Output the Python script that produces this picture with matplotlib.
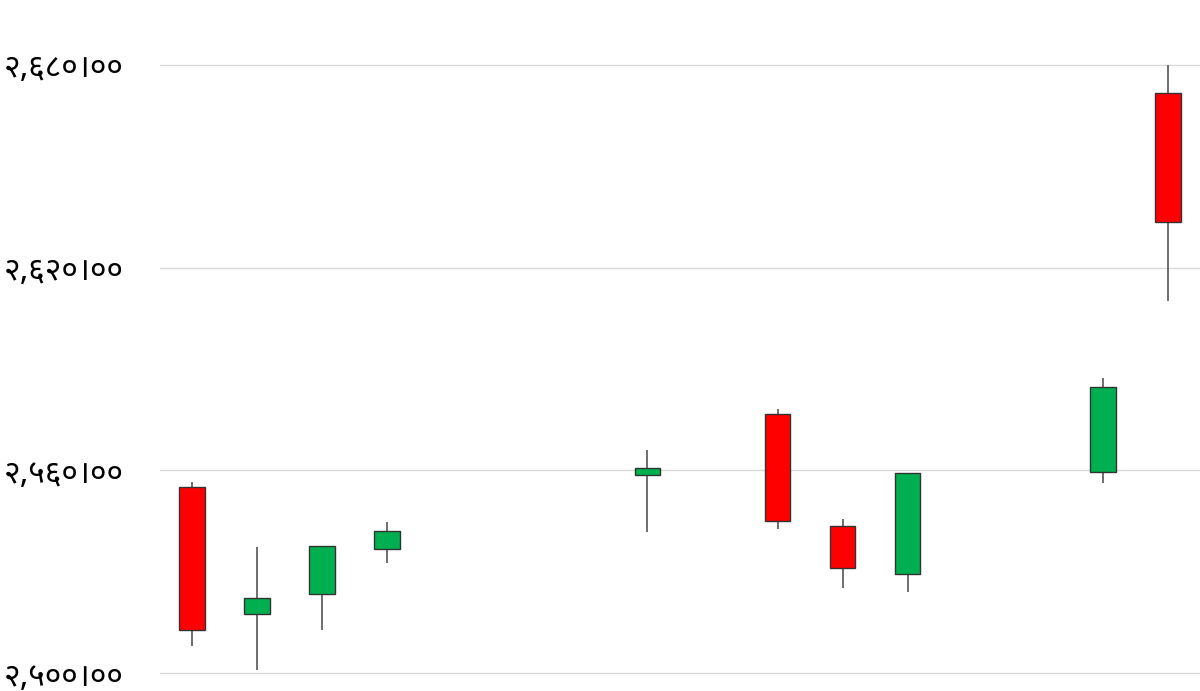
import matplotlib
matplotlib.use("Agg")
import matplotlib.pyplot as plt
import numpy as np

# candle slots on the category axis (gaps are days without trading)
slots = [0, 1, 2, 3, 7, 9, 10, 11, 14, 15]
opens = [2555.1, 2517.5, 2523.4, 2536.7, 2558.7, 2576.7, 2543.6, 2529.4, 2559.6, 2671.6]
highs = [2556.5, 2537.3, 2537.6, 2544.6, 2566.0, 2578.1, 2545.5, 2559.3, 2587.2, 2680.0]
lows = [2508.0, 2500.9, 2512.7, 2532.5, 2541.7, 2542.6, 2525.1, 2523.9, 2556.3, 2610.2]
closes = [2512.7, 2522.2, 2537.6, 2542.1, 2560.6, 2545.0, 2531.2, 2559.3, 2584.8, 2633.4]

ytick_vals = [2500, 2560, 2620, 2680]
ytick_labels = ["२,५००।००", "२,५६०।००", "२,६२०।००", "२,६८०।००"]

plt.rcParams['font.family'] = ['Noto Sans Devanagari', 'Noto Sans Devanagari UI', 'Mukta', 'DejaVu Sans']

fig = plt.figure(figsize=(12, 6.91), dpi=100)
ax = fig.add_axes([160 / 1200, 0, 1040 / 1200, 1])

x = np.array(slots)
o = np.array(opens)
c = np.array(closes)
up = c >= o
colors = np.where(up, '#00B050', '#FF0000')

ax.vlines(x, lows, highs, color='#555555', linewidth=1.2, zorder=2)
ax.bar(x, np.abs(c - o), bottom=np.minimum(o, c), width=0.39,
       color=colors, edgecolor='#333333', linewidth=1.0, zorder=3)

ax.set_xlim(-0.49, 15.49)
ax.set_ylim(2494.7, 2699.2)
ax.set_yticks(ytick_vals)
ax.set_yticklabels(ytick_labels, fontsize=23, fontweight='semibold', color='black')
ax.tick_params(axis='y', length=0, pad=26)
ax.set_xticks([])
ax.grid(axis='y', color='#D9D9D9', linewidth=1.0, zorder=0)
ax.set_axisbelow(True)
for s in ax.spines.values():
    s.set_visible(False)

fig.savefig('out.png', dpi=100)
